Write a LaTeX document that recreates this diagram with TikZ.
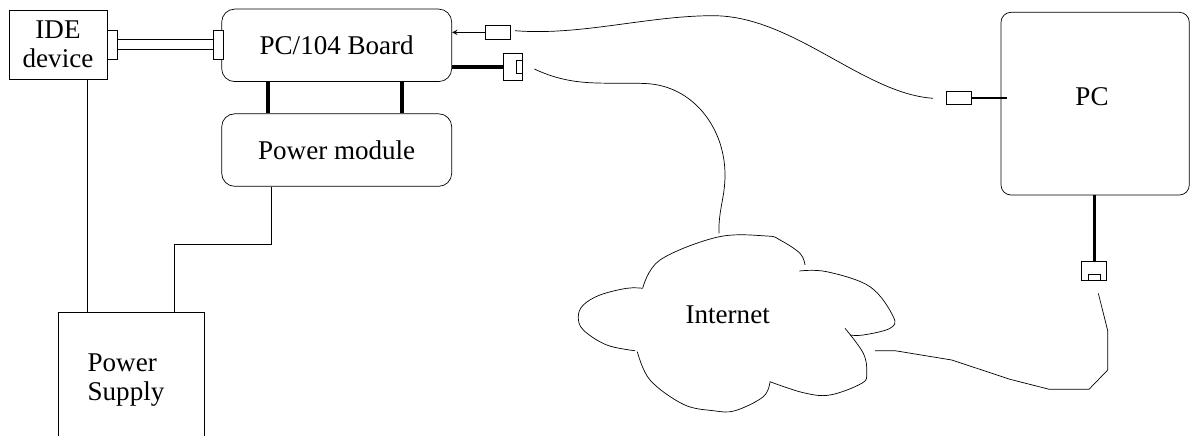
\documentclass[tikz,border=0pt]{standalone}
\usepackage{fontspec}
\setmainfont{Liberation Serif}
\usetikzlibrary{positioning}

\tikzset{
  board/.style={draw, rounded corners=0.26cm, minimum width=4.6cm, minimum height=1.45cm},
  plug/.style={draw, inner sep=0pt, fill=white},
  thickwire/.style={line width=2.3pt},
  lobe/.style={smooth, tension=0.6}
}

\begin{document}
\begin{tikzpicture}[font=\fontsize{15.4}{16.5}\selectfont]
  \useasboundingbox (0,0) rectangle (23.82,-8.72);
  \clip (0,0) rectangle (23.82,-8.72);

  % Target side
  \node[draw, minimum width=1.96cm, minimum height=1.38cm, align=center] (ide) at (1.16,-0.89) {IDE\\device};
  \node[board] (board) at (6.734,-0.907) {PC/104 Board};
  \node[board, below=0.63cm of board] (pm) {Power module};
  \node[draw, minimum width=2.92cm, minimum height=3cm, anchor=north] (psu) at (2.62,-6.246) {};
  \node[align=left, anchor=west, inner sep=0pt] (psutxt) at (1.746,-7.6) {Power\\Supply};

  % IDE ribbon cable
  \node[plug, minimum width=0.2cm, minimum height=0.58cm, anchor=west] (ideplug) at (ide.east) {};
  \node[plug, minimum width=0.2cm, minimum height=0.58cm] (boardplug) at (4.36,-0.89) {};
  \draw[double distance=0.19cm] (ideplug.east) -- (boardplug.west);

  % Board to power module
  \draw[thickwire] ([xshift=0.93cm]board.south west) -- ([xshift=0.93cm]pm.north west);
  \draw[thickwire] ([xshift=-1cm]board.south east) -- ([xshift=-1cm]pm.north east);

  % Power wiring
  \coordinate (bend) at (3.494,-4.88);
  \draw ([xshift=0.99cm]pm.south west) |- (bend) -- (bend |- psu.north);
  \draw ([xshift=0.586cm]ide.south) -- ([xshift=0.586cm]ide.south |- psu.north);

  % Board connectors
  \node[plug, minimum width=0.5cm, minimum height=0.266cm] (usb) at (9.964,-0.647) {};
  \draw[->, >=stealth] (usb.west) -- (usb.west -| board.east);
  \node[plug, minimum width=0.388cm, minimum height=0.534cm] (eth) at (10.26,-1.333) {};
  \node[plug, minimum width=0.12cm, minimum height=0.25cm, anchor=east] (ethin) at (eth.east) {};
  \draw[thickwire] (eth.west) -- (eth.west -| board.east);

  % Host PC
  \node[draw, rounded corners=0.2cm, minimum width=3.766cm, minimum height=3.654cm] (pc) at (21.903,-2.073) {};
  \node (pctxt) at (21.84,-1.94) {PC};
  \node[plug, minimum width=0.5cm, minimum height=0.246cm] (pcplug) at (19.184,-1.957) {};
  \draw[line width=1.3pt, shorten >=-0.13cm] (pcplug.east) -- (pcplug.east -| pc.west);
  \node[plug, minimum width=0.5cm, minimum height=0.366cm] (pcport) at (21.884,-5.417) {};
  \node[plug, minimum width=0.234cm, minimum height=0.114cm, anchor=south] (pcportin) at (pcport.south) {};
  \draw[line width=1.8pt] (pcport.north |- pc.south) -- (pcport.north);

  % Internet cloud
  \node (inet) at (14.554,-6.3) {Internet};
  \draw plot[lobe] coordinates {(12.854,-5.766) (13.2,-5.2) (14.36,-4.74) (15.334,-4.72) (15.6,-4.8) (16,-5.066) (16.1,-5.3)};
  \draw plot[lobe] coordinates {(15.986,-5.42) (16.534,-5.434) (17.4,-5.734) (17.866,-6.334) (17.8,-6.566) (17.266,-6.7) (17,-6.7)};
  \draw plot[lobe] coordinates {(16.9,-6.566) (17.266,-7.066) (17.334,-7.466) (17.234,-7.666) (16.6,-7.9) (16.066,-7.854) (15.4,-7.634)};
  \draw plot[lobe] coordinates {(15.4,-7.634) (15.266,-7.934) (14.7,-8.214) (14.266,-8.214) (13.666,-8.086) (13,-7.6) (12.746,-7.034)};
  \draw plot[lobe] coordinates {(12.7,-7.014) (12.134,-6.9) (11.666,-6.6) (11.566,-6.334) (11.666,-6.1) (12,-5.9) (12.534,-5.766) (12.854,-5.766)};

  % Cables
  \coordinate (usbend) at (10.3,-0.614);
  \coordinate (pcend) at (18.66,-1.966);
  \draw (usbend) .. controls (11.6,-0.72) and (12.96,-0.314) .. (14.26,-0.314)
                 .. controls (15.86,-0.314) and (17.26,-1.87) .. (pcend);
  \coordinate (ethend) at (10.686,-1.38);
  \coordinate (cloudtop) at (14.38,-4.666);
  \draw (ethend) to[out=-25, in=178] (12.9,-1.67) to[out=-2, in=90] (14.5,-3.5) to[out=-90, in=92] (cloudtop);
  \coordinate (portend) at (21.966,-5.866);
  \coordinate (cloudright) at (17.5,-7.014);
  \draw (portend) -- (22.154,-6.614) -- (22.154,-7.4) -- (21.78,-7.786) -- (20.986,-7.786)
        -- (20.2,-7.586) -- (19.034,-7.2) -- (17.9,-7.014) -- (cloudright);
\end{tikzpicture}
\end{document}
